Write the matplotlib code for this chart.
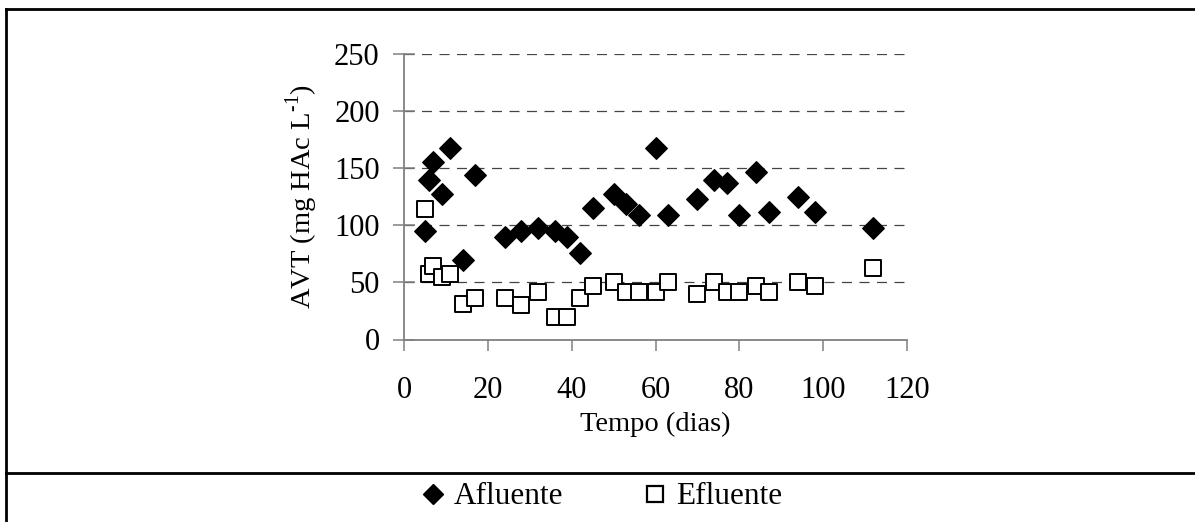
import matplotlib
matplotlib.use('Agg')
import matplotlib.pyplot as plt
from matplotlib.lines import Line2D

plt.rcParams['font.family'] = ['Liberation Serif', 'DejaVu Serif']
plt.rcParams['mathtext.fontset'] = 'custom'
plt.rcParams['mathtext.rm'] = 'Liberation Serif'

# dados
dias = [5, 6, 7, 9, 11, 14, 17, 24, 28, 32, 36, 39, 42, 45, 50, 53, 56, 60,
        63, 70, 74, 77, 80, 84, 87, 94, 98, 112]
afluente = [95, 140, 155, 127, 168, 70, 144, 90, 95, 98, 95, 90, 76, 115,
            127, 119, 109, 168, 109, 123, 140, 137, 109, 147, 112, 125, 112, 98]
efluente = [114, 57, 64, 55, 57, 31, 36, 36, 30, 42, 20, 20, 36, 47,
            50, 42, 42, 42, 50, 40, 50, 42, 42, 47, 42, 50, 47, 63]

xticks = [0, 20, 40, 60, 80, 100, 120]
yticks = [0, 50, 100, 150, 200, 250]

fig = plt.figure(figsize=(11.95, 5.22), dpi=100)
ax = fig.add_axes([404/1195, 1-339.5/522, (907-404)/1195, (339.5-54)/522])

for v in yticks[1:]:
    ax.axhline(v, color='#444444', lw=0.9, dashes=(8, 6), zorder=0)

ax.scatter(dias, afluente, marker='D', s=120, c='black', zorder=3, clip_on=False)
ax.scatter(dias, efluente, marker='s', s=140, facecolors='white',
           edgecolors='black', linewidths=1.4, zorder=4, clip_on=False)

ax.set_xlim(0, 120)
ax.set_ylim(0, 250)
ax.set_xticks(xticks)
ax.set_yticks(yticks)
for s in ['top', 'right']:
    ax.spines[s].set_visible(False)
for s in ['left', 'bottom']:
    ax.spines[s].set_color('#808080')
    ax.spines[s].set_linewidth(1.3)
ax.tick_params(axis='x', direction='out', length=8, width=1.1, color='#808080',
               labelsize=22, pad=18.5)
ax.tick_params(axis='y', direction='inout', length=16, width=1.1, color='#808080',
               labelsize=22, pad=9.5)
ax.set_xlabel('Tempo (dias)', fontsize=20.5, labelpad=5)
ax.set_ylabel('AVT (mg HAc L$^{\\mathregular{\u20101}}$)', fontsize=20.5, labelpad=10)

# moldura e linha da legenda
fig.add_artist(Line2D([5.5/1195, 5.5/1195], [0, 1-9/522], transform=fig.transFigure,
                      color='black', lw=2))
fig.add_artist(Line2D([5.5/1195, 1], [1-9/522, 1-9/522], transform=fig.transFigure,
                      color='black', lw=2))
fig.add_artist(Line2D([5.5/1195, 1], [1-473/522, 1-473/522], transform=fig.transFigure,
                      color='black', lw=2))

h1 = Line2D([], [], marker='D', color='black', ls='none', markersize=10)
h2 = Line2D([], [], marker='s', markerfacecolor='white', markeredgecolor='black',
            markeredgewidth=1.6, ls='none', markersize=11)
fig.legend([h1, h2], ['Afluente', 'Efluente'], loc='center',
           bbox_to_anchor=(603/1195, 1-497/522), ncol=2, frameon=False, fontsize=22.5,
           handletextpad=0.35, columnspacing=2.65, handlelength=0.6,
           borderpad=0, borderaxespad=0)

fig.savefig('out.png', dpi=100)
